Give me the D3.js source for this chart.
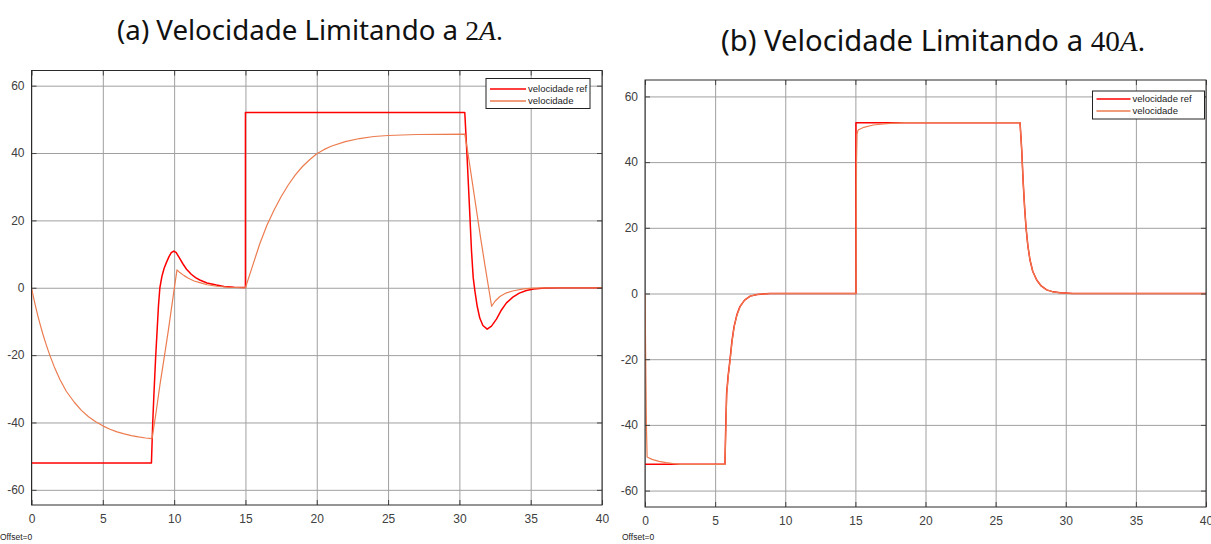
<!DOCTYPE html>
<html>
<head>
<meta charset="utf-8">
<script src="https://cdn.jsdelivr.net/npm/d3@7"></script>
<style>
  html, body { margin: 0; padding: 0; background: #fff; }
  svg { display: block; }
</style>
</head>
<body>
<svg id="fig" width="1211" height="544"></svg>
<script>
// Shared axis ticks
const xTicks = [0, 5, 10, 15, 20, 25, 30, 35, 40];
const yTicks = [-60, -40, -20, 0, 20, 40, 60];
const legendLabels = ["velocidade ref", "velocidade"];

// (a) current limited to 2 A: [time s, speed]
const refA = [
  [0, -52], [8.41, -52], [8.5, -40], [8.58, -32], [8.7, -21], [8.81, -12.5], [8.9, -5.5],
  [9.0, 0], [9.15, 3.5], [9.3, 5.8], [9.47, 7.6], [9.65, 9.3], [9.8, 10.4], [9.98, 10.9],
  [10.15, 10.4], [10.35, 9.0], [10.6, 7.2], [10.87, 5.5], [11.2, 4.0], [11.5, 3.0], [11.8, 2.3],
  [12.3, 1.4], [12.97, 0.8], [13.5, 0.4], [14.2, 0.15], [15.0, 0.05], [15.0, 52], [30.38, 52],
  [30.55, 38], [30.73, 22], [30.85, 11], [30.97, 3], [31.09, -1], [31.25, -5.5], [31.43, -9.0],
  [31.65, -11.2], [31.95, -12.3], [32.25, -11.4], [32.6, -9.3], [32.95, -6.6], [33.3, -4.5],
  [33.75, -2.8], [34.2, -1.6], [34.7, -0.8], [35.2, -0.35], [36, -0.1], [37, 0], [40, 0]
];
const velA = [
  [0, 0], [0.15, -3], [0.3, -5.8], [0.45, -8.4], [0.6, -10.8], [0.8, -13.8], [1.0, -16.5],
  [1.28, -20], [1.6, -23.5], [2.0, -27.3], [2.45, -30.8], [3.0, -34], [3.5, -36.4],
  [4.0, -38.3], [4.5, -39.8], [5.0, -41], [5.5, -42], [6.0, -42.8], [6.5, -43.4], [7.0, -43.9],
  [7.5, -44.3], [8.0, -44.6], [8.45, -44.8], [8.7, -38], [9.0, -29], [9.33, -20], [9.6, -12.5],
  [9.85, -5], [10.0, -0.5], [10.2, 5.3], [10.4, 4.5], [10.7, 3.6], [11.0, 2.8], [11.4, 2.0],
  [11.8, 1.5], [12.3, 0.9], [13.0, 0.45], [13.8, 0.15], [15.0, 0], [15.5, 6.5], [16.0, 13],
  [16.5, 18.5], [17.0, 23], [17.5, 27], [18.0, 30.5], [18.5, 33.5], [19.0, 36], [19.5, 38],
  [20.0, 39.8], [20.5, 41], [21.0, 42], [22.0, 43.4], [23.0, 44.3], [24.0, 44.9], [25.0, 45.2],
  [27.0, 45.5], [30.38, 45.6], [30.6, 40], [30.9, 31.5], [31.2, 23], [31.5, 14.5], [31.8, 6.5],
  [32.05, 0], [32.26, -5.5], [32.5, -4.0], [32.84, -2.6], [33.3, -1.5], [33.8, -0.9],
  [34.5, -0.35], [35.2, -0.1], [36.5, 0], [40, 0]
];

// (b) current limited to 40 A: [time s, speed]
const refB = [
  [0, -52], [5.7, -52], [5.76, -40], [5.82, -30.4], [5.93, -25], [6.06, -20.2], [6.2, -14.5],
  [6.35, -10.1], [6.55, -6.5], [6.77, -4.0], [7.1, -2.0], [7.5, -0.8], [8.0, -0.3], [8.9, 0],
  [15.04, 0], [15.04, 52], [26.74, 52], [26.8, 48], [26.86, 43.7], [26.97, 33.5], [27.07, 26],
  [27.17, 20], [27.3, 14.5], [27.45, 10.2], [27.65, 6.7], [27.93, 4.1], [28.25, 2.3],
  [28.64, 1.1], [29.1, 0.5], [29.6, 0.2], [30.5, 0], [40, 0]
];
const velB = [
  [0, 0], [0.05, -20], [0.1, -40], [0.15, -49.8], [0.5, -50.5], [1.0, -51.1], [1.5, -51.5],
  [2.0, -51.8], [2.5, -52], [5.7, -52], [5.77, -40], [5.83, -30.4], [5.94, -25], [6.07, -20.2],
  [6.21, -14.5], [6.36, -10.1], [6.56, -6.5], [6.78, -4.0], [7.1, -2.0], [7.5, -0.8],
  [8.0, -0.3], [8.9, 0], [15.04, 0], [15.08, 40], [15.12, 48.5], [15.2, 49.8], [15.6, 50.6],
  [16.28, 51.3], [17.0, 51.6], [17.5, 51.8], [18.5, 52], [26.74, 52], [26.8, 48], [26.86, 43.7],
  [26.97, 33.5], [27.07, 26], [27.17, 20], [27.3, 14.5], [27.45, 10.2], [27.65, 6.7],
  [27.93, 4.1], [28.25, 2.3], [28.64, 1.1], [29.1, 0.5], [29.6, 0.2], [30.5, 0], [40, 0]
];

const COLORS = { ref: "#ff0000", vel: "#ec7c4f" };
const svg = d3.select("#fig");
const plainNum = d => String(d);   // scope labels use an ASCII hyphen for negatives

function drawPanel(cfg) {
  const { box, title, ref, vel } = cfg;
  const x = d3.scaleLinear().domain([0, 40]).range([box.left, box.right]);
  const y = d3.scaleLinear().domain(cfg.yDomain).range([box.bottom, box.top]);
  const w = box.right - box.left, h = box.bottom - box.top;
  const g = svg.append("g");

  // caption, sized to its column width
  const t = g.append("text")
    .attr("x", cfg.titleX).attr("y", cfg.titleY)
    .attr("text-anchor", "middle")
    .style("font-family", "'Noto Sans', 'DejaVu Sans', sans-serif")
    .style("font-size", "24px").style("fill", "#111");
  t.append("tspan").text(title.text);
  t.append("tspan").text(title.num)
    .style("font-family", "'Liberation Serif', 'DejaVu Serif', serif");
  t.append("tspan").text("A")
    .style("font-family", "'Liberation Serif', 'DejaVu Serif', serif")
    .style("font-style", "italic");
  t.append("tspan").text(".")
    .style("font-family", "'Liberation Serif', 'DejaVu Serif', serif");
  const len = t.node().getComputedTextLength();
  if (len > 0) t.style("font-size", (24 * cfg.titleWidth / len).toFixed(2) + "px");

  // background
  g.append("rect").attr("x", box.left).attr("y", box.top)
    .attr("width", w).attr("height", h).attr("fill", "#fff");

  // grid
  const gridX = g.append("g").attr("transform", `translate(0,${box.bottom})`)
    .call(d3.axisBottom(x).tickValues(xTicks).tickSize(-h).tickFormat(""));
  const gridY = g.append("g").attr("transform", `translate(${box.left},0)`)
    .call(d3.axisLeft(y).tickValues(yTicks).tickSize(-w).tickFormat(""));
  [gridX, gridY].forEach(a => {
    a.select(".domain").remove();
    a.selectAll("line").attr("stroke", "#a0a0a0").attr("stroke-width", 1);
  });

  // series
  const line = d3.line().x(d => x(d[0])).y(d => y(d[1]));
  const clipId = "clip-" + cfg.id;
  g.append("clipPath").attr("id", clipId).append("rect")
    .attr("x", box.left).attr("y", box.top).attr("width", w).attr("height", h);
  const plot = g.append("g").attr("clip-path", `url(#${clipId})`);
  plot.append("path").datum(ref).attr("d", line)
    .attr("fill", "none").attr("stroke", COLORS.ref).attr("stroke-width", 1.5)
    .attr("stroke-linejoin", "round");
  plot.append("path").datum(vel).attr("d", line)
    .attr("fill", "none").attr("stroke", COLORS.vel).attr("stroke-width", 1.2)
    .attr("stroke-linejoin", "round");

  // axes with inward ticks
  const tickFont = a => a.selectAll("text")
    .style("font-family", "'Liberation Sans', Arial, sans-serif")
    .style("font-size", "12px").attr("fill", "#404040");
  const axB = g.append("g").attr("transform", `translate(0,${box.bottom})`)
    .call(d3.axisBottom(x).tickValues(xTicks).tickFormat(plainNum)
      .tickSizeInner(-5).tickSizeOuter(0).tickPadding(9));
  const axL = g.append("g").attr("transform", `translate(${box.left},0)`)
    .call(d3.axisLeft(y).tickValues(yTicks).tickFormat(plainNum)
      .tickSizeInner(-5).tickSizeOuter(0).tickPadding(7));
  const axT = g.append("g").attr("transform", `translate(0,${box.top})`)
    .call(d3.axisTop(x).tickValues(xTicks).tickSizeInner(-5).tickSizeOuter(0).tickFormat(""));
  const axR = g.append("g").attr("transform", `translate(${box.right},0)`)
    .call(d3.axisRight(y).tickValues(yTicks).tickSizeInner(-5).tickSizeOuter(0).tickFormat(""));
  [axB, axL, axT, axR].forEach(a => {
    a.select(".domain").remove();
    a.selectAll("line").attr("stroke", "#444");
    tickFont(a);
  });
  g.append("rect").attr("x", box.left).attr("y", box.top)
    .attr("width", w).attr("height", h)
    .attr("fill", "none").attr("stroke", "#2a2a2a").attr("stroke-width", 1);

  // legend
  const L = cfg.legend;
  const lg = g.append("g").attr("transform", `translate(${L.x},${L.y})`);
  lg.append("rect").attr("width", L.w).attr("height", L.h)
    .attr("fill", "#fff").attr("stroke", "#222").attr("stroke-width", 1);
  [COLORS.ref, COLORS.vel].forEach((c, i) => {
    const yy = L.row0 + i * L.rowGap;
    lg.append("line").attr("x1", 4).attr("x2", L.sample).attr("y1", yy).attr("y2", yy)
      .attr("stroke", c).attr("stroke-width", 1.3);
    lg.append("text").attr("x", L.sample + 2).attr("y", yy + 3.3)
      .text(legendLabels[i])
      .style("font-family", "'Liberation Sans', Arial, sans-serif")
      .style("font-size", "9.5px").attr("fill", "#222");
  });

  // scope offset note
  g.append("text").attr("x", cfg.offsetX).attr("y", 540).text("Offset=0")
    .style("font-family", "'Liberation Sans', Arial, sans-serif")
    .style("font-size", "8.5px").attr("fill", "#222");
}

drawPanel({
  id: "a",
  box: { left: 31.5, right: 602, top: 70.5, bottom: 505 },
  yDomain: [-64.5, 64.5],
  title: { text: "(a) Velocidade Limitando a ", num: "2" },
  titleX: 310, titleY: 40, titleWidth: 386,
  ref: refA, vel: velA,
  legend: { x: 486, y: 78.5, w: 104, h: 30, row0: 10.5, rowGap: 12, sample: 40 },
  offsetX: 0
});
drawPanel({
  id: "b",
  box: { left: 645, right: 1206, top: 80, bottom: 507 },
  yDomain: [-65, 65],
  title: { text: "(b) Velocidade Limitando a ", num: "40" },
  titleX: 933, titleY: 51, titleWidth: 424,
  ref: refB, vel: velB,
  legend: { x: 1092.5, y: 91, w: 112, h: 28, row0: 8, rowGap: 12, sample: 38 },
  offsetX: 622
});
</script>
</body>
</html>
